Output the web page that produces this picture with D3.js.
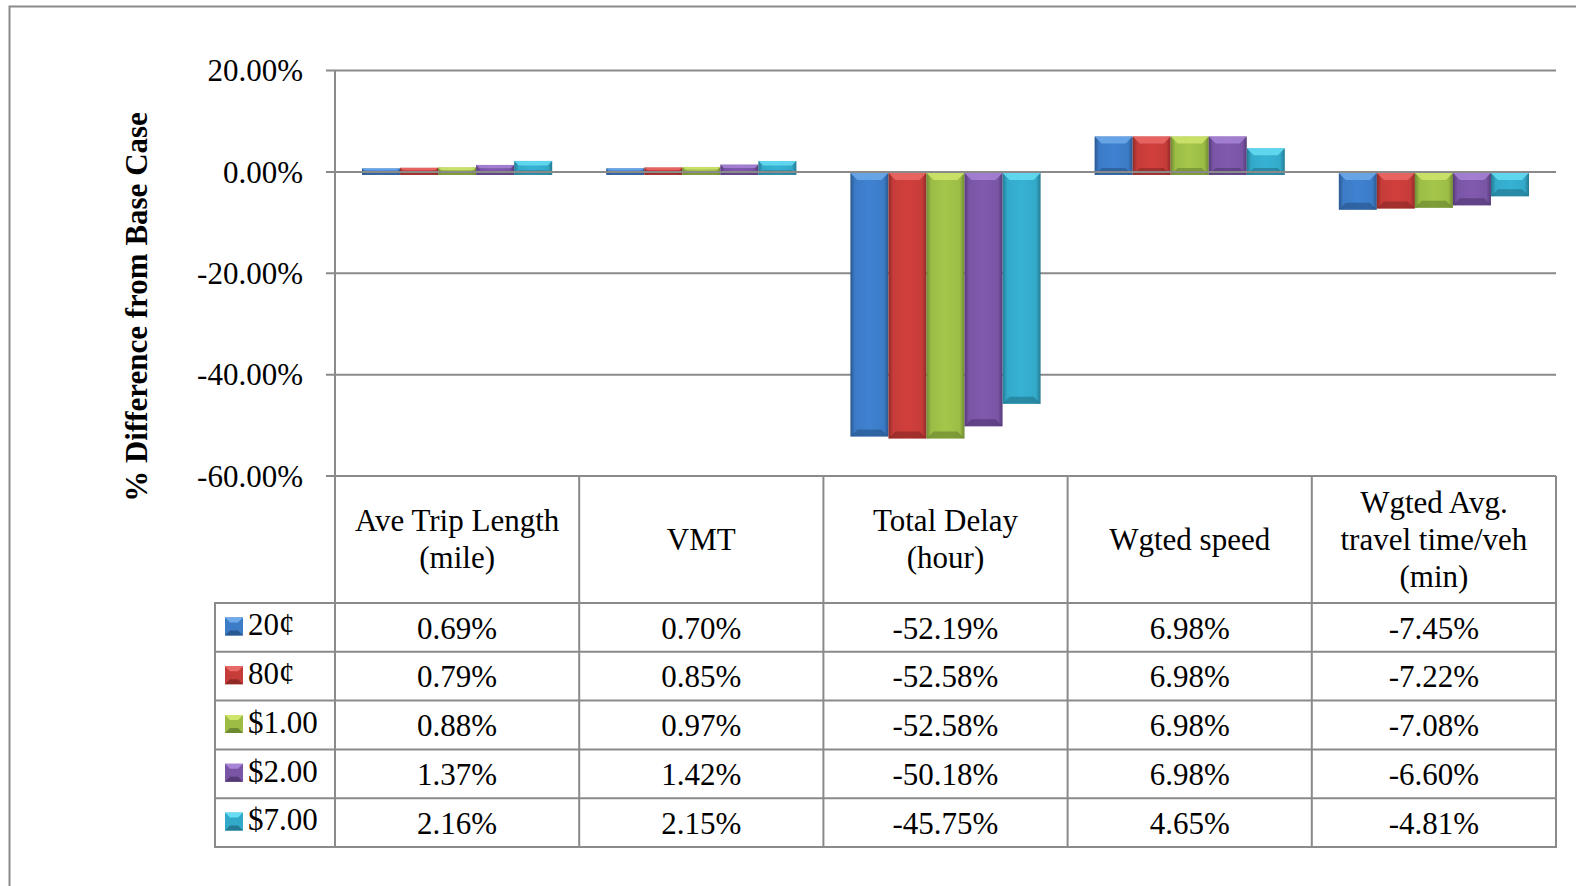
<!DOCTYPE html>
<html><head><meta charset="utf-8">
<script src="https://cdn.jsdelivr.net/npm/d3@7"></script>
<style>html,body{margin:0;padding:0;background:#fff;}svg{display:block;}</style>
</head><body>
<svg id="chart" width="1576" height="886"></svg>
<script>
const categories = [["Ave Trip Length","(mile)"],["VMT"],["Total Delay","(hour)"],["Wgted speed"],["Wgted Avg.","travel time/veh","(min)"]];
const seriesNames = ["20¢","80¢","$1.00","$2.00","$7.00"];
const v20c  = [0.69, 0.70, -52.19, 6.98, -7.45];
const v80c  = [0.79, 0.85, -52.58, 6.98, -7.22];
const v1    = [0.88, 0.97, -52.58, 6.98, -7.08];
const v2    = [1.37, 1.42, -50.18, 6.98, -6.60];
const v7    = [2.16, 2.15, -45.75, 4.65, -4.81];
const seriesValues = [v20c, v80c, v1, v2, v7];
const yTicks = [20, 0, -20, -40, -60];

const colors = [
  {mid:"#3c7bc6", hi:"#6eaaea", lo:"#2a5890"},
  {mid:"#c63c39", hi:"#ea6a67", lo:"#8f2a27"},
  {mid:"#9cbc46", hi:"#cfe56c", lo:"#6e8a30"},
  {mid:"#7a55a5", hi:"#a884d6", lo:"#553a78"},
  {mid:"#33a9c9", hi:"#66ddf2", lo:"#247a93"}
];
const grid = "#8a8a8a";
const font = "'Liberation Serif','Times New Roman',serif";
const fs = 31;
const fmt = v => d3.format(".2f")(v).replace("\u2212","-") + "%";

const svg = d3.select("#chart");
const catIdx = categories.map((d,i)=>i);
const x = d3.scaleBand().domain(catIdx).range([335, 1556]).paddingInner(0).paddingOuter(0);
const xs = d3.scaleBand().domain(seriesNames).range([0, x.bandwidth()]).paddingOuter(0.71).paddingInner(0);
const y = d3.scaleLinear().domain([-60, 20]).range([476, 70.5]);

svg.append("rect").attr("x",9.5).attr("y",6.5).attr("width",1700).attr("height",1000)
  .attr("fill","none").attr("stroke",grid).attr("stroke-width",2);

const defs = svg.append("defs");
colors.forEach((c,i)=>{
  const g = defs.append("linearGradient").attr("id","hg"+i).attr("x1","0").attr("x2","1").attr("y1","0").attr("y2","0");
  g.append("stop").attr("offset","0").attr("stop-color",c.lo);
  g.append("stop").attr("offset","0.12").attr("stop-color",c.mid);
  g.append("stop").attr("offset","0.5").attr("stop-color",d3.color(c.mid).brighter(0.15));
  g.append("stop").attr("offset","0.88").attr("stop-color",c.mid);
  g.append("stop").attr("offset","1").attr("stop-color",c.lo);
});

svg.selectAll("line.grid").data(yTicks.filter(d=>d!==0)).enter().append("line")
  .attr("x1",326).attr("x2",x.range()[1]).attr("y1",d=>y(d)).attr("y2",d=>y(d))
  .attr("stroke",grid).attr("stroke-width",2);

const barsG = svg.append("g");
seriesValues.forEach((vals,si)=>{
  vals.forEach((v,ci)=>{
    const bx = x(ci) + xs(seriesNames[si]);
    const bw = xs.bandwidth();
    let top, bot;
    if (v >= 0) { top = y(v); bot = y(0) + 3; }
    else { top = y(0) + 1; bot = y(v); }
    const h = bot - top;
    const b = Math.min(7, h/3);
    const g = barsG.append("g");
    g.append("rect").attr("x",bx).attr("y",top).attr("width",bw).attr("height",h).attr("fill","url(#hg"+si+")");
    g.append("path").attr("d",`M${bx},${top}L${bx+bw},${top}L${bx+bw-b},${top+b}L${bx+b},${top+b}Z`).attr("fill",colors[si].hi).attr("opacity",0.85);
    g.append("path").attr("d",`M${bx},${bot}L${bx+bw},${bot}L${bx+bw-b},${bot-b}L${bx+b},${bot-b}Z`).attr("fill",colors[si].lo).attr("opacity",0.7);
  });
});

svg.append("line").attr("x1",326).attr("x2",x.range()[1]).attr("y1",y(0)).attr("y2",y(0)).attr("stroke",grid).attr("stroke-width",2);
svg.append("line").attr("x1",x.range()[0]).attr("x2",x.range()[0]).attr("y1",y(20)).attr("y2",847).attr("stroke",grid).attr("stroke-width",2);

const yAxis = d3.axisLeft(y).tickValues(yTicks).tickSize(0).tickFormat(fmt);
const ag = svg.append("g").attr("transform","translate(303,0)").call(yAxis);
ag.select(".domain").remove();
ag.selectAll("text").attr("font-family",font).attr("font-size",fs).attr("fill","#000").attr("x",0).attr("dy","0.33em");

svg.append("text").attr("transform","translate(147,307) rotate(-90)").attr("text-anchor","middle")
  .attr("font-family",font).attr("font-weight","bold").attr("font-size",31).text("% Difference from Base Case");

const headTop = y(-60), headBot = 603, rowH = (847-603)/5;
const tbl = svg.append("g");
catIdx.forEach(ci=>{
  tbl.append("line").attr("x1",x(ci)+x.bandwidth()).attr("x2",x(ci)+x.bandwidth()).attr("y1",headTop).attr("y2",headBot+5*rowH).attr("stroke",grid).attr("stroke-width",2);
});
tbl.append("line").attr("x1",215).attr("x2",215).attr("y1",headBot).attr("y2",headBot+5*rowH).attr("stroke",grid).attr("stroke-width",2);
tbl.append("line").attr("x1",x.range()[0]).attr("x2",x.range()[1]).attr("y1",headTop).attr("y2",headTop).attr("stroke",grid).attr("stroke-width",2);
d3.range(6).forEach(r=>{
  tbl.append("line").attr("x1",214).attr("x2",x.range()[1]+1).attr("y1",headBot+r*rowH).attr("y2",headBot+r*rowH).attr("stroke",grid).attr("stroke-width",2);
});
categories.forEach((lines,ci)=>{
  const cx = x(ci)+x.bandwidth()/2, cy = (headTop+headBot)/2;
  lines.forEach((t,li)=>{
    tbl.append("text").attr("x",cx).attr("y",cy + (li-(lines.length-1)/2)*37).attr("dy","0.33em")
      .attr("text-anchor","middle").attr("font-family",font).attr("font-size",fs).text(t);
  });
});
seriesValues.forEach((vals,si)=>{
  const cy = headBot + si*rowH + rowH/2;
  const sw = tbl.append("g");
  const sx=225, sy=cy-10, s=18, b=5;
  sw.append("rect").attr("x",sx).attr("y",sy).attr("width",s).attr("height",s).attr("fill",colors[si].mid);
  sw.append("path").attr("d",`M${sx},${sy}L${sx+s},${sy}L${sx+s-b},${sy+b}L${sx+b},${sy+b}Z`).attr("fill",colors[si].hi);
  sw.append("path").attr("d",`M${sx},${sy+s}L${sx+s},${sy+s}L${sx+s-b},${sy+s-b}L${sx+b},${sy+s-b}Z`).attr("fill",colors[si].lo);
  tbl.append("text").attr("x",248).attr("y",cy).attr("dy","0.25em").attr("font-family",font).attr("font-size",fs).text(seriesNames[si]);
  vals.forEach((v,ci)=>{
    tbl.append("text").attr("x",x(ci)+x.bandwidth()/2).attr("y",cy).attr("dy","0.36em")
      .attr("text-anchor","middle").attr("font-family",font).attr("font-size",fs).text(fmt(v));
  });
});
</script>
</body></html>
